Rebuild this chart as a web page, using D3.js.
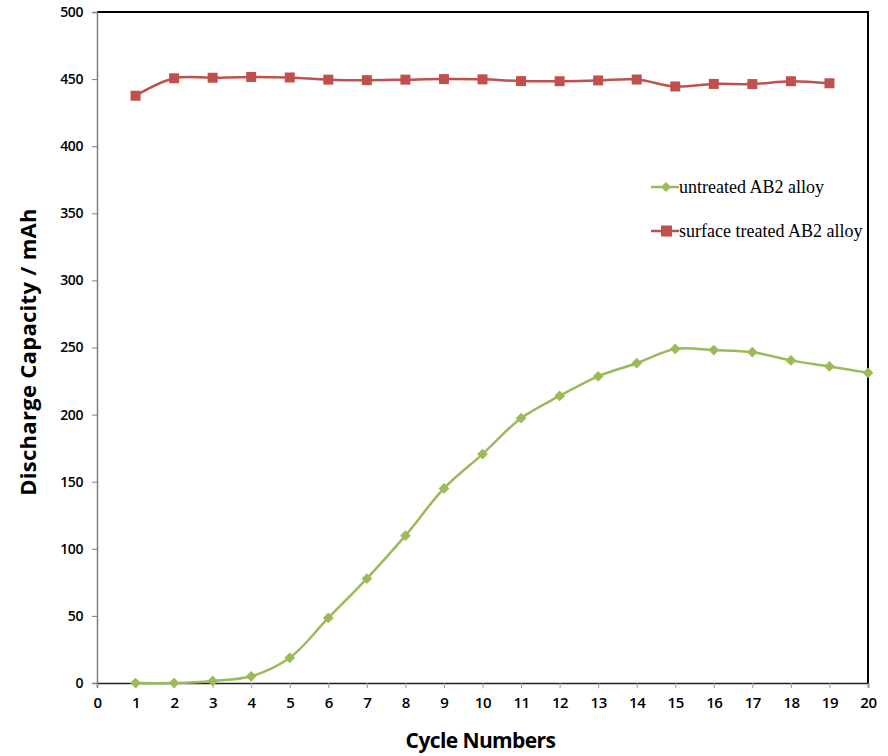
<!DOCTYPE html>
<html>
<head>
<meta charset="utf-8">
<script src="https://cdn.jsdelivr.net/npm/d3@7"></script>
<style>
  body { margin: 0; background: #fff; }
  svg { display: block; }
</style>
</head>
<body>
<div id="chart"></div>
<script>
// data
const cycles = d3.range(0, 21);
const untreated = [
  [1, 0], [2, 0], [3, 1.5], [4, 5], [5, 18.8], [6, 48.5], [7, 77.8], [8, 109.8],
  [9, 145], [10, 170.6], [11, 197.3], [12, 213.9], [13, 228.5], [14, 238.3],
  [15, 248.9], [16, 248.1], [17, 246.5], [18, 240.4], [19, 235.9], [20, 231.1]
];
const treated = [
  [1, 437.6], [2, 450.6], [3, 451], [4, 451.6], [5, 451.2], [6, 449.6], [7, 449.2],
  [8, 449.6], [9, 450], [10, 449.8], [11, 448.5], [12, 448.4], [13, 449], [14, 449.7],
  [15, 444.5], [16, 446.4], [17, 446.3], [18, 448.4], [19, 446.9]
];
const yTicks = d3.range(0, 501, 50);
const seriesNames = ["untreated AB2 alloy", "surface treated AB2 alloy"];

const width = 888, height = 756;
const margin = { left: 97, top: 12, right: 20, bottom: 73 };

const svg = d3.select("#chart").append("svg")
    .attr("width", width)
    .attr("height", height);

const x = d3.scaleLinear().domain([0, 20]).range([margin.left, width - margin.right]);
const y = d3.scaleLinear().domain([0, 500]).range([height - margin.bottom, margin.top]);

// top & right border
svg.append("path")
    .attr("d", `M${x(0)},${y(500)}H${x(20)}V${y(0)}`)
    .attr("fill", "none")
    .attr("stroke", "#000")
    .attr("stroke-width", 2);

// y axis
const yAxis = svg.append("g")
    .attr("transform", `translate(${x(0)},0)`)
    .call(d3.axisLeft(y).tickValues(yTicks).tickSize(5).tickPadding(9));
yAxis.select(".domain").attr("stroke", "#7f7f7f").attr("stroke-width", 1.5);
yAxis.selectAll(".tick line").attr("stroke", "#7f7f7f");
yAxis.selectAll("text")
    .attr("font-family", "'Open Sans', sans-serif")
    .attr("font-weight", "600")
    .attr("font-size", 14)
    .attr("letter-spacing", -0.4)
    .attr("fill", "#000");

// x axis
const xAxis = svg.append("g")
    .attr("transform", `translate(0,${y(0)})`)
    .call(d3.axisBottom(x).tickValues(cycles).tickSize(5).tickPadding(9));
xAxis.select(".domain").attr("stroke", "#222").attr("stroke-width", 1.5);
xAxis.selectAll(".tick line").attr("stroke", "#9a9a9a");
xAxis.selectAll("text")
    .attr("font-family", "'Open Sans', sans-serif")
    .attr("font-weight", "600")
    .attr("font-size", 15)
    .attr("letter-spacing", -0.4)
    .attr("fill", "#000");

// axis titles
svg.append("text")
    .attr("transform", `translate(36,352) rotate(-90)`)
    .attr("text-anchor", "middle")
    .attr("font-family", "'Open Sans', sans-serif")
    .attr("font-weight", "700")
    .attr("font-size", 22)
    .attr("letter-spacing", 0.3)
    .text("Discharge Capacity / mAh");

svg.append("text")
    .attr("x", (x(0) + x(20)) / 2 - 2)
    .attr("y", 748)
    .attr("text-anchor", "middle")
    .attr("font-family", "'Open Sans', sans-serif")
    .attr("font-weight", "700")
    .attr("font-size", 21)
    .attr("letter-spacing", -0.6)
    .text("Cycle Numbers");

const line = d3.line()
    .x(d => x(d[0]))
    .y(d => y(d[1]))
    .curve(d3.curveCatmullRom.alpha(0.5));

const green = "#9bbb59", red = "#c0504d";

// untreated
svg.append("path")
    .datum(untreated)
    .attr("d", line)
    .attr("fill", "none")
    .attr("stroke", green)
    .attr("stroke-width", 2.5);
svg.selectAll(".dia")
    .data(untreated)
    .join("path")
    .attr("class", "dia")
    .attr("transform", d => `translate(${x(d[0])},${y(d[1])}) rotate(45)`)
    .attr("d", "M-3.8,-3.8H3.8V3.8H-3.8Z")
    .attr("fill", green);

// treated
svg.append("path")
    .datum(treated)
    .attr("d", line)
    .attr("fill", "none")
    .attr("stroke", red)
    .attr("stroke-width", 2.5);
svg.selectAll(".sq")
    .data(treated)
    .join("rect")
    .attr("class", "sq")
    .attr("x", d => x(d[0]) - 5)
    .attr("y", d => y(d[1]) - 5)
    .attr("width", 10)
    .attr("height", 10)
    .attr("fill", red);

// legend
const legend = svg.append("g").attr("transform", "translate(651,187)");
[[green, "dia"], [red, "sq"]].forEach((s, i) => {
  const g = legend.append("g").attr("transform", `translate(0,${i * 44})`);
  g.append("line").attr("x1", 0).attr("x2", 28)
      .attr("stroke", s[0]).attr("stroke-width", 2.5);
  if (s[1] === "dia") {
    g.append("path").attr("transform", "translate(15,0) rotate(45)")
        .attr("d", "M-3.6,-3.6H3.6V3.6H-3.6Z").attr("fill", s[0]);
  } else {
    g.append("rect").attr("x", 10).attr("y", -5.5).attr("width", 11).attr("height", 11)
        .attr("fill", s[0]);
  }
  g.append("text")
      .attr("x", 28)
      .attr("y", 6)
      .attr("font-family", "'Liberation Serif', 'Times New Roman', serif")
      .attr("font-size", 18)
      .text(seriesNames[i]);
});
</script>
</body>
</html>
